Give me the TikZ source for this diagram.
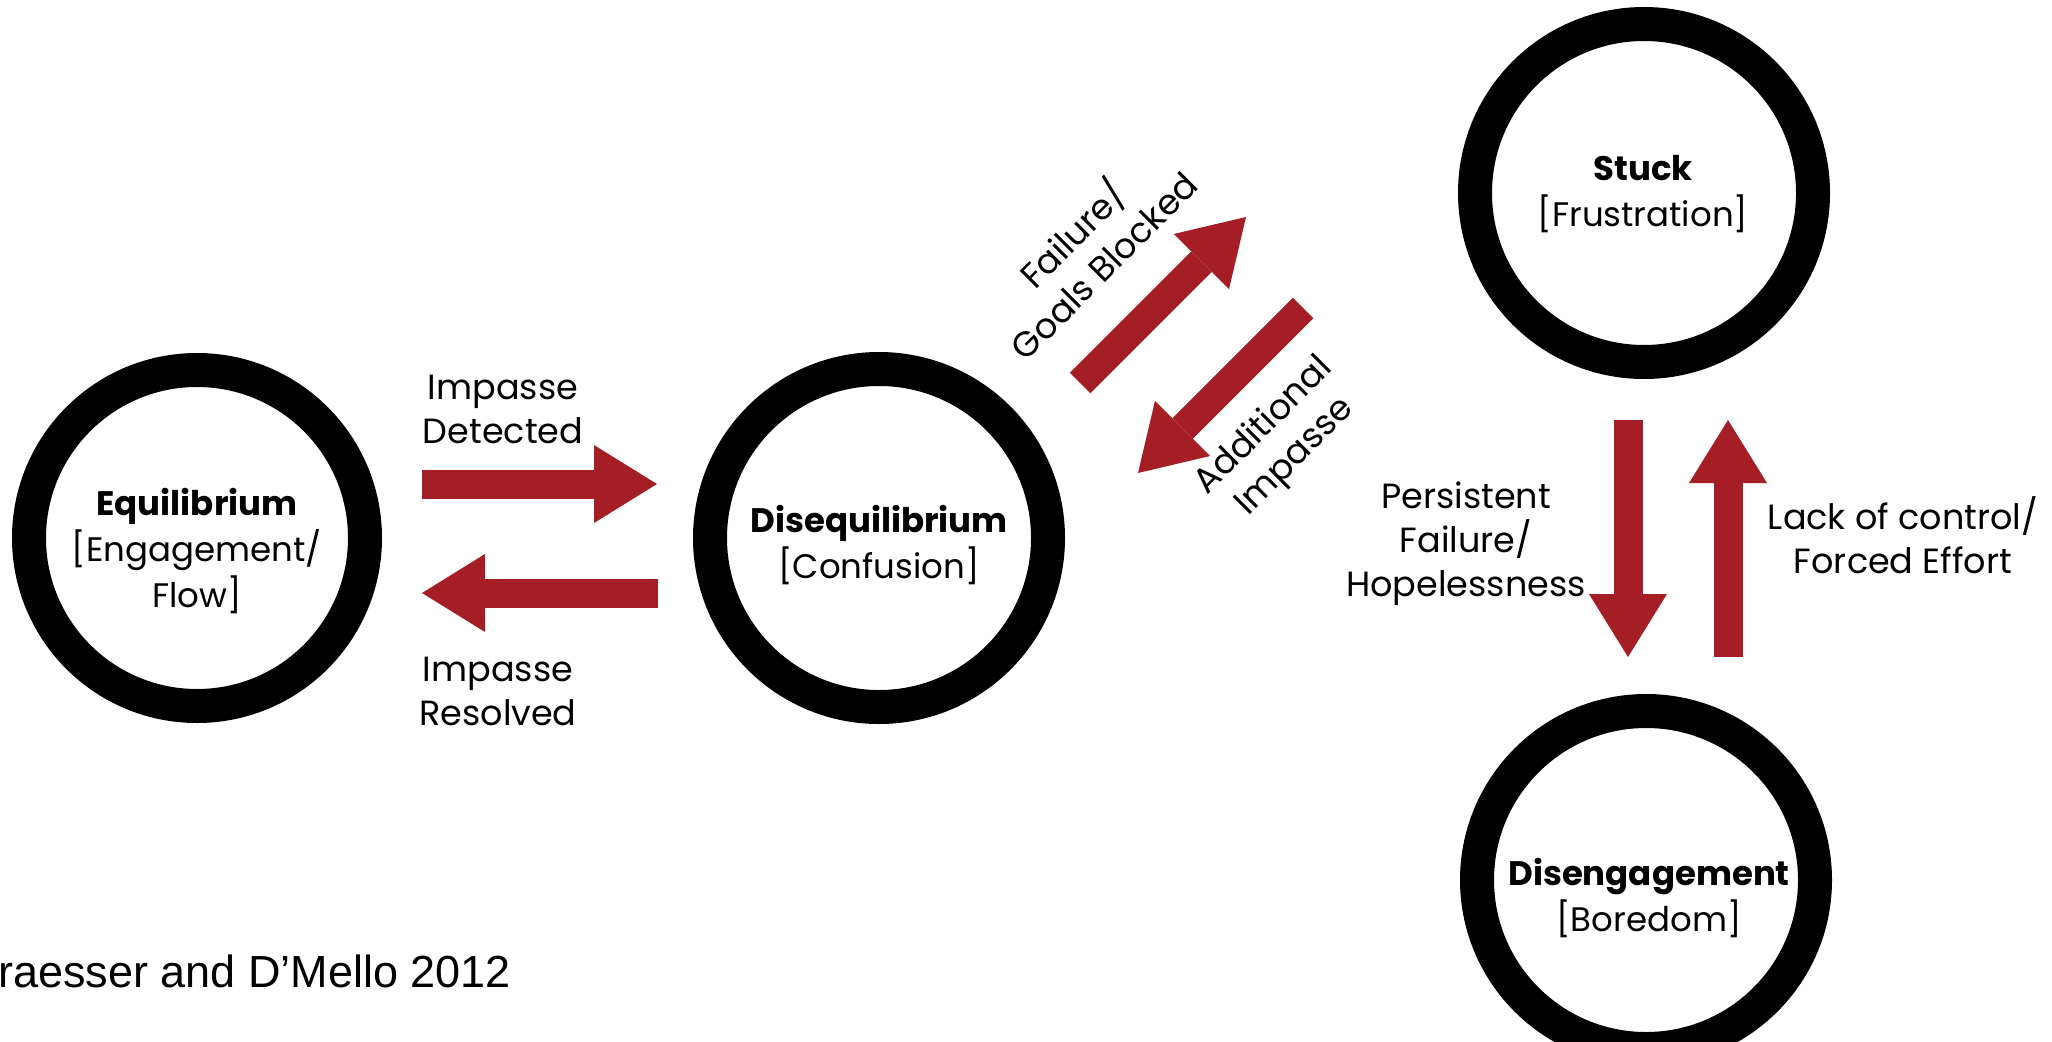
\documentclass[tikz,border=0pt]{standalone}
\usepackage{fontspec}
\setmainfont{Poppins}
\newfontfamily\citefont{Liberation Sans}
\usetikzlibrary{arrows.meta}
\definecolor{arrred}{RGB}{166,30,37}
\begin{document}
\begin{tikzpicture}[x=1pt,y=-1pt,
  ring/.style={draw=black, line width=34pt, inner sep=0pt, outer sep=0pt, circle, minimum size=338pt},
  ctext/.style={align=center, font=\fontsize{34}{46}\selectfont, inner sep=0pt},
  ltext/.style={align=center, font=\fontsize{35}{44}\selectfont, inner sep=0pt},
  blockarrow/.style={draw=arrred, line width=29pt, -{Triangle[width=78pt,length=63pt,line width=0pt]}},
]
\useasboundingbox (0,0) rectangle (2052,1041);
\fill[white] (0,0) rectangle (2052,1041);

% state rings
\node[ring, minimum size=336pt] (eq) at (197,538) {};
\node[ring] (diseq) at (879,538) {};
\node[ring] (stuck) at (1644,193) {};
\node[ring] (diseng) at (1646,880) {};

% state texts
\node[ctext] (eqt) at (197,551) {\textbf{Equilibrium}\\{}[Engagement/\\Flow]};
\node[ctext] (diseqt) at (879,545) {\textbf{Disequilibrium}\\{}[Confusion]};
\node[ctext] (stuckt) at (1643,194) {\textbf{Stuck}\\{}[Frustration]};
\node[ctext] (disengt) at (1649,898) {\textbf{Disengagement}\\{}[Boredom]};

% arrow end points
\coordinate (a1s) at (422,484);  \coordinate (a1e) at (657,484);
\coordinate (a2s) at (658,593);  \coordinate (a2e) at (422,593);
\coordinate (a3s) at (1080,383); \coordinate (a3e) at (1246,217);
\coordinate (a4s) at (1303,308); \coordinate (a4e) at (1138,473);
\coordinate (a5s) at (1628,420); \coordinate (a5e) at (1628,657);
\coordinate (a6s) at (1728,657); \coordinate (a6e) at (1728,420);

\draw[blockarrow] (a1s) -- (a1e);
\draw[blockarrow] (a2s) -- (a2e);
\draw[blockarrow] (a3s) -- (a3e);
\draw[blockarrow] (a4s) -- (a4e);
\draw[blockarrow] (a5s) -- (a5e);
\draw[blockarrow] (a6s) -- (a6e);

% arrow labels
\node[ltext] (l1) at (503,409) {Impasse\\Detected};
\node[ltext] (l2) at (498,691) {Impasse\\Resolved};
\node[ltext, rotate=45] (l3) at (1086,248) {Failure/\\Goals Blocked};
\node[ltext, rotate=45] (l4) at (1280,442) {Additional\\Impasse};
\node[ltext] (l5) at (1466,544) {Persistent\\Failure/\\Hopelessness};
\node[ltext] (l6) at (1903,535) {Lack of control/\\Forced Effort};

% citation
\node[anchor=west, inner sep=0pt, font=\citefont\fontsize{45}{54}\selectfont] (cite) at (-2,971) {raesser and D’Mello 2012};
\end{tikzpicture}
\end{document}
